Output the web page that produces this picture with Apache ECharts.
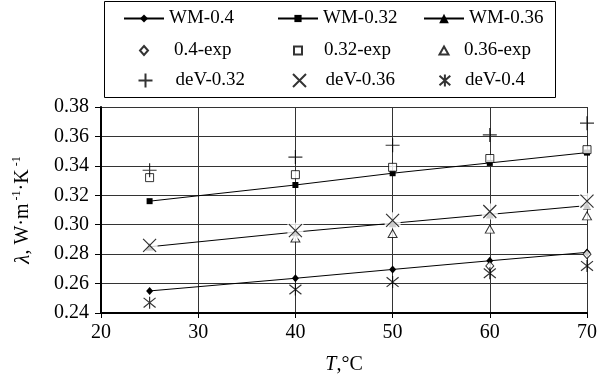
<!DOCTYPE html>
<html>
<head>
<meta charset="utf-8">
<script src="https://cdn.jsdelivr.net/npm/echarts@6/dist/echarts.min.js"></script>
<style>
  html, body { margin: 0; padding: 0; background: #fff; }
  #chart { width: 600px; height: 380px; }
</style>
</head>
<body>
<div id="chart"></div>
<script>
// Thermal conductivity vs temperature: model (WM), experiment (exp) and deV predictions
const temps = [25, 40, 50, 60, 70];

const wm04  = [0.255, 0.2636, 0.2696, 0.2755, 0.2812];
const wm032 = [0.316, 0.327, 0.335, 0.342, 0.349];
const wm036 = [0.285, 0.295, 0.301, 0.307, 0.313];

const exp04  = [null, null, null, 0.272, 0.280];
const exp032 = [0.332, 0.334, 0.339, 0.345, 0.351];
const exp036 = [null, 0.291, 0.294, 0.297, 0.306];

const dev032 = [0.337, 0.346, 0.354, 0.361, 0.369];
const dev036 = [0.286, 0.296, 0.303, 0.309, 0.316];
const dev04  = [0.247, 0.256, 0.261, 0.267, 0.272];

const xTicks = { min: 20, max: 70, step: 10 };
const yTicks = { min: 0.24, max: 0.38, step: 0.02 };

const FONT = '"Liberation Serif", "DejaVu Serif", serif';

function pts(vals) {
  const out = [];
  vals.forEach((v, i) => { if (v !== null) out.push([temps[i], v]); });
  return out;
}

const PLUS = 'path://M5,0 L5,10 M0,5 L10,5';
const CROSS = 'path://M0,0 L10,10 M10,0 L0,10';
const STAR = 'path://M0.5,1 L9.5,9 M9.5,1 L0.5,9 M5,0 L5,10';

const lineStyle = { color: '#000', width: 1 };

const series = [
  { name: 'WM-0.4', type: 'line', data: pts(wm04), symbol: 'diamond', symbolSize: [7, 8],
    itemStyle: { color: '#000' }, lineStyle, z: 2 },
  { name: 'WM-0.32', type: 'line', data: pts(wm032), symbol: 'rect', symbolSize: 6,
    itemStyle: { color: '#000' }, lineStyle, z: 2 },
  { name: 'WM-0.36', type: 'line', data: pts(wm036), symbol: 'triangle', symbolSize: 8,
    itemStyle: { color: '#000' }, lineStyle, z: 2 },
  { name: '0.4-exp', type: 'scatter', data: pts(exp04), symbol: 'diamond', symbolSize: [8, 9],
    itemStyle: { color: '#fff', borderColor: '#000', borderWidth: 1 }, z: 2 },
  { name: '0.32-exp', type: 'scatter', data: pts(exp032), symbol: 'rect', symbolSize: 8,
    itemStyle: { color: '#fff', borderColor: '#000', borderWidth: 1 }, z: 2 },
  { name: '0.36-exp', type: 'scatter', data: pts(exp036), symbol: 'triangle', symbolSize: [9, 8],
    itemStyle: { color: '#fff', borderColor: '#000', borderWidth: 1 }, z: 2 },
  // white backing behind the deV-0.36 crosses
  { name: 'halo', type: 'scatter', data: pts(dev036), symbol: 'rect', symbolSize: 16,
    itemStyle: { color: '#fff' }, silent: true, z: 2 },
  { name: 'deV-0.32', type: 'scatter', data: pts(dev032), symbol: PLUS, symbolSize: 14,
    itemStyle: { color: 'none', borderColor: '#000', borderWidth: 1.2 }, z: 2 },
  { name: 'deV-0.36', type: 'scatter', data: pts(dev036), symbol: CROSS, symbolSize: 13,
    itemStyle: { color: 'none', borderColor: '#000', borderWidth: 1.2 }, z: 2 },
  { name: 'deV-0.4', type: 'scatter', data: pts(dev04), symbol: STAR, symbolSize: 12,
    itemStyle: { color: 'none', borderColor: '#000', borderWidth: 1.2 }, z: 2 }
];

// legend layout: icon centre (cx), text start (tx), icon size (w, h), row centre (cy)
const legendSpec = [
  { name: 'WM-0.4',   cx: 143, tx: 168, w: 40, h: 10, cy: 20 },
  { name: 'WM-0.32',  cx: 297, tx: 322, w: 40, h: 9,  cy: 20 },
  { name: 'WM-0.36',  cx: 443, tx: 468, w: 40, h: 12, cy: 20 },
  { name: '0.4-exp',  cx: 143, tx: 173, w: 8,  h: 9,  cy: 52 },
  { name: '0.32-exp', cx: 297, tx: 323, w: 8,  h: 8,  cy: 52 },
  { name: '0.36-exp', cx: 443, tx: 463, w: 9,  h: 8,  cy: 52 },
  { name: 'deV-0.32', cx: 143, tx: 173, w: 14, h: 14, cy: 82 },
  { name: 'deV-0.36', cx: 297, tx: 323, w: 13, h: 13, cy: 82 },
  { name: 'deV-0.4',  cx: 443, tx: 463, w: 12, h: 12, cy: 82 }
];

const legends = legendSpec.map(s => {
  const left = s.cx - s.w / 2;
  const pad = Math.max(0, s.tx - (left + s.w + 5));
  return {
    data: [s.name],
    left: left,
    top: s.cy - 11,
    padding: 0,
    itemWidth: s.w,
    itemHeight: s.h,
    itemGap: 0,
    selectedMode: false,
    textStyle: { fontFamily: FONT, fontSize: 19, color: '#000', padding: [0, 0, 0, pad] }
  };
});

const chart = echarts.init(document.getElementById('chart'), null, { renderer: 'canvas' });

chart.setOption({
  animation: false,
  backgroundColor: '#fff',
  legend: legends,
  graphic: [{
    type: 'rect', left: 104, top: 1, z: -1,
    shape: { width: 451, height: 96 },
    style: { fill: '#fff', stroke: '#000', lineWidth: 1 }
  }],
  grid: { left: 101, right: 9, top: 107, bottom: 65 },
  xAxis: {
    type: 'value',
    min: xTicks.min, max: xTicks.max, interval: xTicks.step,
    name: '{i|T}{n|,°C}',
    nameLocation: 'middle',
    nameGap: 42,
    nameTextStyle: {
      rich: {
        i: { fontFamily: FONT, fontSize: 20, fontStyle: 'italic', color: '#000' },
        n: { fontFamily: FONT, fontSize: 20, color: '#000' }
      }
    },
    axisLine: { show: true, lineStyle: { color: '#000', width: 2 } },
    axisTick: { show: true, inside: false, length: 5, lineStyle: { color: '#000', width: 1 } },
    axisLabel: { fontFamily: FONT, fontSize: 20, color: '#000', margin: 10 },
    splitLine: { show: true, lineStyle: { color: '#333', width: 1 } }
  },
  yAxis: {
    type: 'value',
    min: yTicks.min, max: yTicks.max, interval: yTicks.step,
    name: '{l|λ}{t|, W·m}{s| -1}{t|·K}{s| -1}',
    nameLocation: 'middle',
    nameGap: 66,
    nameRotate: 90,
    nameTextStyle: {
      rich: {
        l: { fontFamily: FONT, fontSize: 21, fontStyle: 'italic', color: '#000', lineHeight: 24 },
        t: { fontFamily: FONT, fontSize: 20, color: '#000', lineHeight: 24 },
        s: { fontFamily: FONT, fontSize: 12, color: '#000', lineHeight: 12, verticalAlign: 'top' }
      }
    },
    axisLine: { show: true, lineStyle: { color: '#000', width: 2 } },
    axisTick: { show: true, inside: false, length: 6, lineStyle: { color: '#000', width: 1 } },
    axisLabel: {
      fontFamily: FONT, fontSize: 20, color: '#000', margin: 12,
      formatter: v => v.toFixed(2)
    },
    splitLine: { show: true, lineStyle: { color: '#333', width: 1 } }
  },
  series
});
</script>
</body>
</html>
